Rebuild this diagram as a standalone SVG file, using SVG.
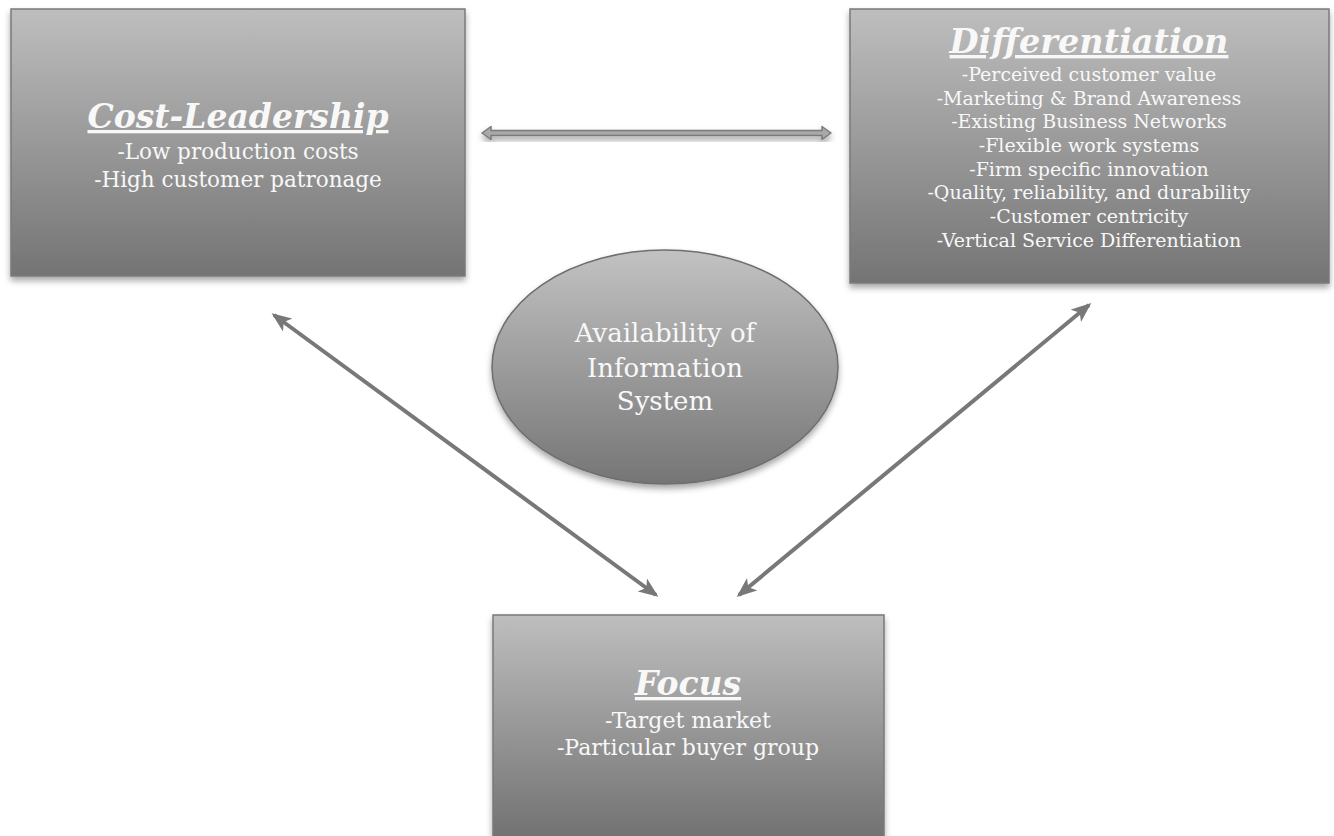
<svg xmlns="http://www.w3.org/2000/svg" width="1334" height="836" viewBox="0 0 1334 836">
  <defs>
    <linearGradient id="boxFill" x1="0" y1="0" x2="0" y2="1">
      <stop offset="0" stop-color="#bebebe"/>
      <stop offset="1" stop-color="#747474"/>
    </linearGradient>
    <linearGradient id="focusFill" x1="0" y1="0" x2="0" y2="1">
      <stop offset="0" stop-color="#bebebe"/>
      <stop offset="1" stop-color="#6c6c6c"/>
    </linearGradient>
    <linearGradient id="ovalFill" x1="0" y1="0" x2="0" y2="1">
      <stop offset="0" stop-color="#c2c2c2"/>
      <stop offset="1" stop-color="#757575"/>
    </linearGradient>
    <filter id="shadow" x="-10%" y="-10%" width="120%" height="125%">
      <feDropShadow dx="0" dy="4" stdDeviation="3" flood-color="#000" flood-opacity="0.35"/>
    </filter>
    <marker id="head" viewBox="0 0 20 16" refX="17" refY="8" markerWidth="20" markerHeight="16" markerUnits="userSpaceOnUse" orient="auto-start-reverse">
      <path d="M0,0 L20,8 L0,16 L5,8 Z" fill="#787878"/>
    </marker>
  </defs>
  <style>
    .box { stroke: #7a7a7a; stroke-width: 1.5; filter: url(#shadow); }
    .title { font-family: "DejaVu Serif", serif; font-weight: bold; font-style: italic; fill: #f8f8f8; text-anchor: middle; text-decoration: underline; }
    .body { font-family: "DejaVu Serif", serif; fill: #f8f8f8; text-anchor: middle; }
    .link { stroke: #787878; stroke-width: 4; fill: none; }
  </style>

  <rect width="1334" height="836" fill="#ffffff"/>

  <!-- connectors -->
  <g id="connectors">
    <path d="M482,133 L491,126.5 L491,130.5 L822,130.5 L822,126.5 L831,133 L822,139.5 L822,135.5 L491,135.5 L491,139.5 Z" fill="#a9a9a9" stroke="#7a7a7a" stroke-width="1.5" stroke-linejoin="round" filter="url(#shadow)"/>
    <line class="link" x1="274" y1="315" x2="656" y2="595" marker-start="url(#head)" marker-end="url(#head)"/>
    <line class="link" x1="1089" y1="305" x2="739" y2="595" marker-start="url(#head)" marker-end="url(#head)"/>
  </g>

  <!-- Cost-Leadership -->
  <g id="cost-leadership">
    <rect class="box" x="11" y="9" width="454" height="267" fill="url(#boxFill)"/>
    <text class="title" x="238" y="128" font-size="33">Cost-Leadership</text>
    <text class="body" x="238" y="159" font-size="21.5">-Low production costs</text>
    <text class="body" x="238" y="187" font-size="21.5">-High customer patronage</text>
  </g>

  <!-- Differentiation -->
  <g id="differentiation">
    <rect class="box" x="850" y="9" width="479" height="274" fill="url(#boxFill)"/>
    <text class="title" x="1089" y="53" font-size="33.5">Differentiation</text>
    <text class="body" x="1089" y="81" font-size="19">-Perceived customer value</text>
    <text class="body" x="1089" y="105" font-size="19">-Marketing &amp; Brand Awareness</text>
    <text class="body" x="1089" y="128" font-size="19">-Existing Business Networks</text>
    <text class="body" x="1089" y="152" font-size="19">-Flexible work systems</text>
    <text class="body" x="1089" y="176" font-size="19">-Firm specific innovation</text>
    <text class="body" x="1089" y="199" font-size="19">-Quality, reliability, and durability</text>
    <text class="body" x="1089" y="223" font-size="19">-Customer centricity</text>
    <text class="body" x="1089" y="247" font-size="19">-Vertical Service Differentiation</text>
  </g>

  <!-- Information system -->
  <g id="information-system">
    <ellipse cx="665" cy="367" rx="173" ry="117" fill="url(#ovalFill)" stroke="#6e6e6e" stroke-width="1.5" filter="url(#shadow)"/>
    <text class="body" x="665" y="342" font-size="26">Availability of</text>
    <text class="body" x="665" y="377" font-size="26">Information</text>
    <text class="body" x="665" y="410" font-size="26">System</text>
  </g>

  <!-- Focus -->
  <g id="focus">
    <rect class="box" x="493" y="615" width="391" height="240" fill="url(#focusFill)"/>
    <text class="title" x="688" y="695" font-size="33">Focus</text>
    <text class="body" x="688" y="728" font-size="22">-Target market</text>
    <text class="body" x="688" y="755" font-size="22">-Particular buyer group</text>
  </g>
</svg>
